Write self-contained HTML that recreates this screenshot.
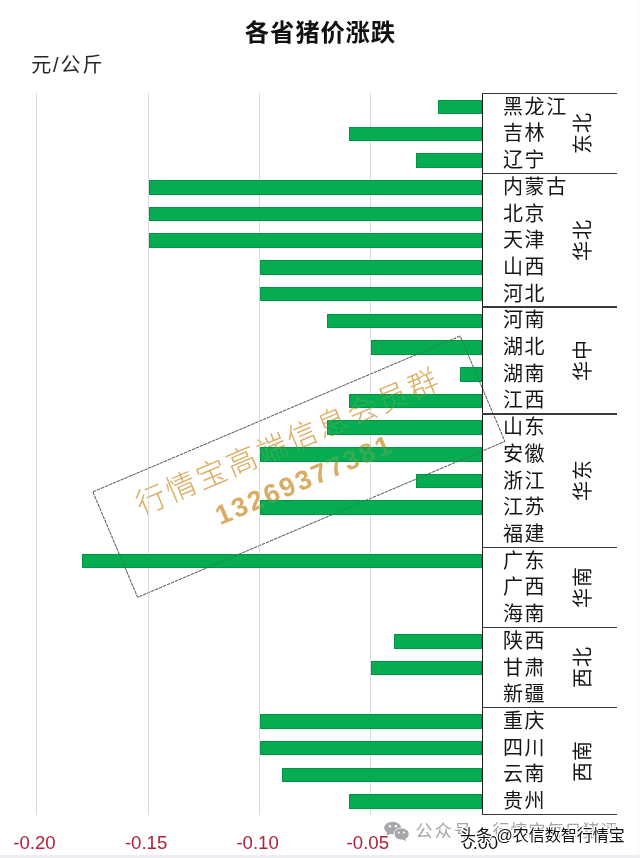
<!DOCTYPE html><html lang="zh-CN"><head><meta charset="utf-8"><title>各省猪价涨跌</title><style>
html,body{margin:0;padding:0;background:#fff;}
body{width:640px;height:858px;overflow:hidden;position:relative;font-family:"Liberation Sans","Noto Sans CJK SC",sans-serif;}
#c{position:absolute;left:0;top:0;width:640px;height:858px;overflow:hidden;background:#fff;}
#c div{position:absolute;}
.t{white-space:nowrap;line-height:1;}
.title{left:0;width:640px;text-align:center;top:21.4px;font-size:24.4px;font-weight:700;color:#111;letter-spacing:0.8px;padding-left:0.8px;box-sizing:border-box;}
.unit{left:31.2px;top:55px;font-size:20px;color:#262626;letter-spacing:1.9px;}
.g{width:1px;background:#d9dbe0;}
.b{background:#05ac50;box-shadow:inset 0 0 0 1px rgba(0,110,50,.38);}
.ax{background:#1c1c1c;}
.sep{background:#3a3a3a;height:1.3px;}
.lab{font-size:20px;color:#161616;letter-spacing:1.6px;}
.grp{font-size:20px;color:#161616;letter-spacing:1px;transform:translate(-50%,-50%) rotate(-90deg);}
  .xl{font-size:18.6px;color:#b3203a;}
.wm{left:299.1px;top:467.1px;width:399.8px;height:115.3px;margin-left:-199.9px;margin-top:-57.65px;transform:rotate(-23deg);box-sizing:border-box;}
.wm .l1{left:0;width:100%;text-align:center;top:15.5px;font-size:30px;font-weight:300;letter-spacing:2.8px;color:#dcae66;}
.wm .l2{left:0;width:100%;text-align:center;top:59px;font-size:27px;font-weight:700;letter-spacing:2.3px;color:#d9ad66;}
.wmb{}
.wmo{opacity:.22;}
.wmo.wmb{opacity:.5}
.wx{color:#a6a6a6;font-size:17px;letter-spacing:1.5px;}
.wx i{display:inline-block;width:17px;text-align:center;font-style:normal;}
.tt{color:#111;font-size:16px;font-weight:400;-webkit-text-stroke:0px;text-shadow:-1px -1px 0 #fff,1px -1px 0 #fff,-1px 1px 0 #fff,1px 1px 0 #fff,0 -1.4px 0 #fff,0 1.4px 0 #fff,-1.4px 0 0 #fff,1.4px 0 0 #fff;}
</style></head><body><div id="c">
<div style="left:635.5px;top:0;width:4.5px;height:858px;background:#fcfcf7"></div><div style="left:0;top:854.5px;width:640px;height:3.5px;background:#eeeef2"></div>
<div class="t title">各省猪价涨跌</div><div class="t unit">元/公斤</div>
<div class="wm wmb"><svg width="399.8" height="115.3" style="position:absolute;left:0;top:0;overflow:visible"><rect x="0.4" y="0.4" width="399" height="114.5" fill="none" stroke="#505050" stroke-width="0.75" stroke-dasharray="3.4 0.9"/></svg><div class="t l1">行情宝高端信息会员群</div><div class="t l2">13269377381</div></div>
<div class="g" style="left:36.35px;top:93.4px;height:722.0px"></div>
<div class="g" style="left:147.65px;top:93.4px;height:722.0px"></div>
<div class="g" style="left:258.95px;top:93.4px;height:722.0px"></div>
<div class="g" style="left:370.25px;top:93.4px;height:722.0px"></div>
<div class="b" style="left:438.1px;top:99.90px;width:44.2px;height:14.6px"></div>
<div class="b" style="left:349.0px;top:126.61px;width:133.3px;height:14.6px"></div>
<div class="b" style="left:415.8px;top:153.31px;width:66.5px;height:14.6px"></div>
<div class="b" style="left:148.7px;top:180.02px;width:333.6px;height:14.6px"></div>
<div class="b" style="left:148.7px;top:206.72px;width:333.6px;height:14.6px"></div>
<div class="b" style="left:148.7px;top:233.43px;width:333.6px;height:14.6px"></div>
<div class="b" style="left:260.0px;top:260.13px;width:222.3px;height:14.6px"></div>
<div class="b" style="left:260.0px;top:286.84px;width:222.3px;height:14.6px"></div>
<div class="b" style="left:326.8px;top:313.54px;width:155.5px;height:14.6px"></div>
<div class="b" style="left:371.3px;top:340.25px;width:111.0px;height:14.6px"></div>
<div class="b" style="left:460.3px;top:366.95px;width:22.0px;height:14.6px"></div>
<div class="b" style="left:349.0px;top:393.66px;width:133.3px;height:14.6px"></div>
<div class="b" style="left:326.8px;top:420.36px;width:155.5px;height:14.6px"></div>
<div class="b" style="left:260.0px;top:447.07px;width:222.3px;height:14.6px"></div>
<div class="b" style="left:415.8px;top:473.77px;width:66.5px;height:14.6px"></div>
<div class="b" style="left:260.0px;top:500.48px;width:222.3px;height:14.6px"></div>
<div class="b" style="left:81.9px;top:553.89px;width:400.4px;height:14.6px"></div>
<div class="b" style="left:393.6px;top:634.00px;width:88.7px;height:14.6px"></div>
<div class="b" style="left:371.3px;top:660.71px;width:111.0px;height:14.6px"></div>
<div class="b" style="left:260.0px;top:714.12px;width:222.3px;height:14.6px"></div>
<div class="b" style="left:260.0px;top:740.82px;width:222.3px;height:14.6px"></div>
<div class="b" style="left:282.3px;top:767.53px;width:200.0px;height:14.6px"></div>
<div class="b" style="left:349.0px;top:794.23px;width:133.3px;height:14.6px"></div>
<div class="wm wmb wmo"><svg width="399.8" height="115.3" style="position:absolute;left:0;top:0;overflow:visible"><rect x="0.4" y="0.4" width="399" height="114.5" fill="none" stroke="#505050" stroke-width="0.75" stroke-dasharray="3.4 0.9"/></svg></div><div class="wm wmo"><div class="t l1">行情宝高端信息会员群</div><div class="t l2">13269377381</div></div>
<div class="ax" style="left:481.60px;top:92.8px;width:1.4px;height:722.2px"></div>
<div class="sep" style="left:482.3px;top:92.75px;width:134.9px"></div>
<div class="sep" style="left:482.3px;top:172.86px;width:134.9px"></div>
<div class="sep" style="left:482.3px;top:306.39px;width:134.9px"></div>
<div class="sep" style="left:482.3px;top:413.21px;width:134.9px"></div>
<div class="sep" style="left:482.3px;top:546.74px;width:134.9px"></div>
<div class="sep" style="left:482.3px;top:626.85px;width:134.9px"></div>
<div class="sep" style="left:482.3px;top:706.96px;width:134.9px"></div>
<div class="sep" style="left:482.3px;top:813.78px;width:134.9px"></div>
<div class="t lab" style="left:503px;top:96.7px">黑龙江</div>
<div class="t lab" style="left:503px;top:123.4px">吉林</div>
<div class="t lab" style="left:503px;top:150.1px">辽宁</div>
<div class="t lab" style="left:503px;top:176.8px">内蒙古</div>
<div class="t lab" style="left:503px;top:203.5px">北京</div>
<div class="t lab" style="left:503px;top:230.2px">天津</div>
<div class="t lab" style="left:503px;top:256.9px">山西</div>
<div class="t lab" style="left:503px;top:283.6px">河北</div>
<div class="t lab" style="left:503px;top:310.3px">河南</div>
<div class="t lab" style="left:503px;top:337.0px">湖北</div>
<div class="t lab" style="left:503px;top:363.7px">湖南</div>
<div class="t lab" style="left:503px;top:390.4px">江西</div>
<div class="t lab" style="left:503px;top:417.1px">山东</div>
<div class="t lab" style="left:503px;top:443.8px">安徽</div>
<div class="t lab" style="left:503px;top:470.5px">浙江</div>
<div class="t lab" style="left:503px;top:497.2px">江苏</div>
<div class="t lab" style="left:503px;top:523.9px">福建</div>
<div class="t lab" style="left:503px;top:550.6px">广东</div>
<div class="t lab" style="left:503px;top:577.3px">广西</div>
<div class="t lab" style="left:503px;top:604.0px">海南</div>
<div class="t lab" style="left:503px;top:630.8px">陕西</div>
<div class="t lab" style="left:503px;top:657.5px">甘肃</div>
<div class="t lab" style="left:503px;top:684.2px">新疆</div>
<div class="t lab" style="left:503px;top:710.9px">重庆</div>
<div class="t lab" style="left:503px;top:737.6px">四川</div>
<div class="t lab" style="left:503px;top:764.3px">云南</div>
<div class="t lab" style="left:503px;top:791.0px">贵州</div>
<div class="t grp" style="left:583px;top:133.1px">东北</div>
<div class="t grp" style="left:583px;top:239.9px">华北</div>
<div class="t grp" style="left:583px;top:360.0px">华中</div>
<div class="t grp" style="left:583px;top:480.2px">华东</div>
<div class="t grp" style="left:583px;top:587.0px">华南</div>
<div class="t grp" style="left:583px;top:667.2px">西北</div>
<div class="t grp" style="left:583px;top:760.6px">西南</div>
<div class="t xl" style="left:13.2px;top:833.8px">-0.20</div>
<div class="t xl" style="left:124.9px;top:833.8px">-0.15</div>
<div class="t xl" style="left:236.4px;top:833.8px">-0.10</div>
<div class="t xl" style="left:346.6px;top:833.8px">-0.05</div>
<svg style="position:absolute;left:380px;top:816px" width="34" height="28" viewBox="0 0 34 28"><g fill="#a6a6ab"><ellipse cx="12.6" cy="12" rx="8.4" ry="6.3"/><path d="M7.5 16.5 L6.4 19.8 L10.6 17.8 Z"/><ellipse cx="21.6" cy="18" rx="7.6" ry="6.1" stroke="#fff" stroke-width="0.9"/><path d="M25 22.6 L26.6 25 L22.6 23.6 Z"/></g><g fill="#fff"><circle cx="9.9" cy="10.2" r="1.25"/><circle cx="15.9" cy="10.2" r="1.25"/><circle cx="18.9" cy="16.5" r="1.05"/><circle cx="23.9" cy="16.5" r="1.05"/></g></svg>
<div class="t wx" style="left:415.5px;top:823px;letter-spacing:2.2px">公众号</div><div class="t wx" style="left:474px;top:823px;letter-spacing:0">·</div><div class="t wx" style="left:492.5px;top:823px;letter-spacing:1px">行情宝每日猪评</div>
<div class="t xl tt" style="left:462.5px;top:833.6px;color:#111;font-weight:400;font-size:18.3px">0.00</div>
<div class="t tt" style="left:460px;top:828px">头条 @农信数智行情宝</div>
</div></body></html>
